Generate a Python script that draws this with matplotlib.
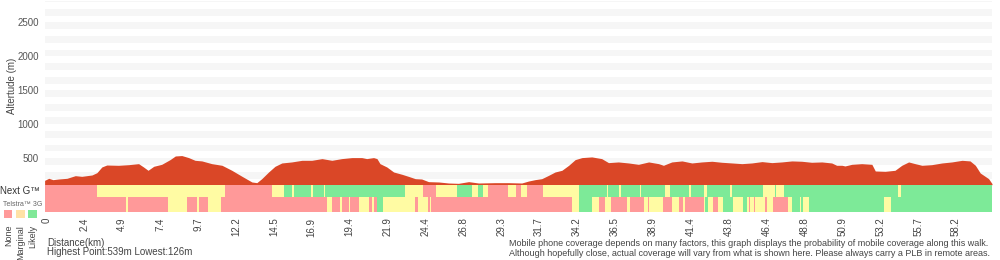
import matplotlib
matplotlib.use("Agg")
from matplotlib import pyplot as plt
from matplotlib.patches import Rectangle

plt.rcParams['font.family'] = ['Liberation Sans', 'DejaVu Sans']

# elevation profile (position along the walk in sample units, metres)
profile_pos = [-0.5, 0.6, 1.7, 3.2, 5.4, 7.6, 9.3, 12.0, 13.3, 14.6, 15.9, 19.0, 21.7, 24.3,
               25.6, 26.8, 28.3, 30.4, 32.6, 34.0, 35.7, 37.5, 39.2, 41.0, 43.6, 46.3, 48.9,
               51.6, 54.2, 55.5, 56.8, 58.6, 60.3, 62.1, 64.7, 67.4, 70.0, 72.7, 75.3, 77.9,
               80.6, 83.2, 84.5, 86.3, 87.2, 88.0, 89.8, 91.6, 93.8, 95.5, 97.3, 99.0, 100.8,
               103.5, 106.1, 108.7, 111.4, 114.0, 118.4, 121.9, 125.4, 127.2, 128.9, 130.7,
               132.5, 134.2, 136.0, 137.8, 139.5, 141.3, 143.9, 146.5, 148.3, 150.9, 153.6,
               156.2, 158.9, 161.5, 162.8, 165.0, 167.7, 170.3, 172.9, 175.6, 178.2, 180.9,
               183.5, 186.1, 188.8, 191.4, 194.0, 196.7, 199.3, 201.9, 204.6, 207.2, 208.5,
               209.9, 210.7, 212.5, 215.1, 217.8, 218.7, 221.3, 223.9, 225.7, 227.5, 229.2,
               231.0, 233.6, 236.3, 238.9, 241.6, 243.7, 245.1, 246.4, 248.6, 249.5]
profile_elev = [174, 204, 184, 194, 204, 243, 233, 253, 287, 371, 400, 396, 405, 420,
                371, 322, 381, 410, 479, 533, 539, 509, 469, 460, 420, 396, 322,
                233, 150, 140, 199, 297, 381, 430, 445, 469, 469, 494, 469, 494,
                509, 509, 494, 509, 494, 420, 371, 297, 263, 233, 199, 194, 155,
                150, 135, 130, 155, 135, 140, 140, 135, 164, 184, 199,
                248, 297, 322, 396, 479, 509, 519, 494, 435, 445, 430,
                410, 445, 420, 396, 445, 460, 430, 445, 455, 440, 430,
                420, 430, 450, 435, 445, 460, 455, 440, 445, 430, 396,
                396, 386, 410, 420, 410, 312, 307, 322, 396, 445, 420,
                396, 405, 430, 445, 469, 460, 396, 282, 199, 126]

# coverage segments: start position and level (0 none, 1 marginal, 2 likely)
nextg_start = [-0.5, 13.3, 47.2, 59.5, 62.8, 64.75, 65.2, 69.8, 70.2, 73.1, 73.5, 94.7,
               99.3, 102.7, 108.3, 112.2, 113.8, 115.2, 116.5, 121.7, 123.9, 125.2, 126.8,
               131.0, 140.5, 147.9, 148.3, 151.0, 151.6, 156.6, 157.0, 163.1, 163.9, 164.1,
               164.6, 169.5, 170.1, 173.4, 174.3, 180.4, 180.9, 189.0, 192.3, 192.5, 194.5,
               224.6, 225.4]
nextg_level = [0, 1, 0, 1, 2, 1, 2, 1, 2, 1, 2, 1,
               0, 1, 2, 1, 2, 1, 0, 1, 0, 1, 0,
               1, 2, 1, 2, 1, 2, 1, 2, 1, 2, 1,
               2, 1, 2, 1, 2, 1, 2, 1, 2, 1, 2,
               1, 2]
telstra_start = [-0.5, 21.0, 21.5, 32.0, 37.2, 39.7, 40.2, 42.6, 46.0, 74.0, 75.3, 77.5,
                 77.9, 79.7, 80.1, 82.4, 85.2, 85.9, 86.3, 87.3, 88.8, 97.2, 98.0, 100.8,
                 101.1, 101.4, 138.6, 140.6, 143.9, 145.7, 147.3, 148.9, 153.1, 153.9,
                 157.6, 158.6, 158.9, 162.6, 165.0, 166.8, 167.9, 168.4, 173.4, 173.8,
                 174.5, 175.8, 177.3, 178.5, 181.1, 183.9, 184.8, 185.3, 185.7, 186.7,
                 187.0, 189.5, 190.1, 191.7, 195.6, 196.7, 198.9, 199.2, 199.6, 201.1,
                 221.1, 222.8]
telstra_level = [0, 1, 0, 1, 0, 1, 0, 1, 0, 1, 0, 1,
                 0, 1, 0, 1, 0, 1, 0, 2, 1, 0, 1, 0,
                 1, 0, 1, 2, 1, 0, 1, 0, 1, 0,
                 1, 0, 1, 0, 1, 0, 1, 0, 1, 2,
                 1, 0, 1, 2, 1, 2, 1, 0, 1, 0,
                 1, 0, 1, 0, 1, 2, 1, 2, 1, 2,
                 1, 2]
track_end = 249.5

tick_pos = list(range(0, 250, 10))
tick_km = ["0", "2.4", "4.9", "7.4", "9.7", "12.2", "14.5", "16.9", "19.4", "21.9", "24.4",
           "26.8", "29.3", "31.7", "34.2", "36.5", "38.9", "41.4", "43.8", "46.4", "48.8",
           "50.9", "53.2", "55.7", "58.2"]
alt_ticks = [500, 1000, 1500, 2000, 2500]

cov_colors = ["#ff9999", "#fffba3", "#7dea98"]
legend_colors = ["#ff9a9a", "#ffe2a6", "#80e898"]
legend_names = ["None", "Marginal", "Likely"]


def fx(x):
    return x / 1000


def fy(y):
    return 1 - y / 260


fig = plt.figure(figsize=(10, 2.6), dpi=100)

# altitude chart
ax = fig.add_axes([fx(44.6), fy(184.7), fx(947.4), 183.7 / 260])
ax.set_xlim(-0.5, track_end)
ax.set_ylim(110, 2815)
for b in range(0, 2900, 200):
    ax.axhspan(b, b + 100, color="#f6f6f6", lw=0, zorder=0)
ax.fill_between(profile_pos, profile_elev, 110, color="#da4727", lw=0, zorder=2)
ax.set_xticks([])
ax.set_yticks(alt_ticks)
ax.tick_params(axis="y", length=0, pad=4, labelsize=7, labelcolor="#555555")
for s in ax.spines.values():
    s.set_visible(False)


def strip(rect, starts, levels):
    a = fig.add_axes(rect)
    a.set_xlim(-0.5, track_end)
    a.set_ylim(0, 1)
    ends = starts[1:] + [track_end]
    for s0, s1, lv in zip(starts, ends, levels):
        a.axvspan(s0, s1, color=cov_colors[lv], lw=0)
    a.set_yticks([])
    a.set_xticks([])
    for s in a.spines.values():
        s.set_visible(False)
    return a


strip([fx(44.6), fy(197), fx(947.4), 12.3 / 260], nextg_start, nextg_level)
ax3 = strip([fx(44.6), fy(212), fx(947.4), 14.8 / 260], telstra_start, telstra_level)
ax3.set_xticks(tick_pos, tick_km, rotation=90)
ax3.tick_params(axis="x", length=0, pad=4, labelsize=7, labelcolor="#444444")

# labels on the left
fig.text(fx(12), fy(86), "Altertude (m)", rotation=90, ha="center", va="center",
         fontsize=7, color="#444444")
fig.text(fx(0), fy(191), "Next G™", ha="left", va="center", fontsize=7, color="#333333")
fig.text(fx(3), fy(204), "Telstra™ 3G", ha="left", va="center", fontsize=5, color="#666666")
for i, (c, n) in enumerate(zip(legend_colors, legend_names)):
    x0 = 4 + i * 12.2
    fig.add_artist(Rectangle((fx(x0), fy(218)), fx(8.3), 8.3 / 260, color=c,
                             transform=fig.transFigure, lw=0))
    fig.text(fx(x0 + 4.5), fy(225), n, rotation=90, ha="center", va="top",
             fontsize=6.5, color="#444444")

# notes at the bottom
fig.text(fx(47), fy(243), "Distance(km)", ha="left", va="center", fontsize=7, color="#444444")
fig.text(fx(47), fy(252), "Highest Point:539m Lowest:126m", ha="left", va="center",
         fontsize=7, color="#444444")
fig.text(fx(509), fy(243), "Mobile phone coverage depends on many factors, this graph displays "
         "the probability of mobile coverage along this walk.", ha="left", va="center",
         fontsize=6.5, color="#444444")
fig.text(fx(509), fy(254), "Although hopefully close, actual coverage will vary from what is "
         "shown here. Please always carry a PLB in remote areas.", ha="left", va="center",
         fontsize=6.5, color="#444444")

fig.savefig("out.png", dpi=100)
